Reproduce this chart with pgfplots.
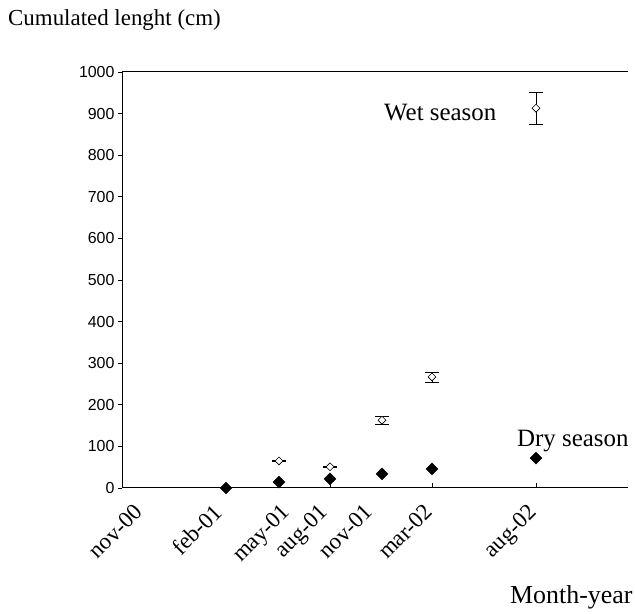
\documentclass[border=0pt]{standalone}
\usepackage{fontspec}
\setmainfont{Liberation Serif}
\setsansfont{Liberation Sans}
\usepackage{pgfplots}
\pgfplotsset{compat=1.18}
\pgfplotstableread{
x y
104 0
157 14
208 22
260 34
310 46
414 72
}\dry
\pgfplotstableread{
x y e
157 65 1
208 51 1
260 163 10
310 267 12
414 913 38
}\wet
\begin{document}
\begin{tikzpicture}
\useasboundingbox (0,0) rectangle (635bp,614bp);
\begin{axis}[
  at={(122bp,126bp)}, anchor=south west,
  scale only axis, width=506bp, height=416bp,
  xmin=0, xmax=506, ymin=0, ymax=1000,
  clip=false,
  axis lines=left,
  axis line style={-, line width=1bp, black},
  ytick={0,100,...,1000},
  ytick pos=left,
  tick align=outside,
  major tick length=4bp,
  tick style={black, line width=0.8bp},
  yticklabel style={font=\sffamily\fontsize{16}{18}\selectfont},
  /pgf/number format/assume math mode=true,
  /pgf/number format/1000 sep={},
  xtick={21,100,168,206,251,311,415},
  xticklabels={nov-00,feb-01,may-01,aug-01,nov-01,mar-02,aug-02},
  x tick style={draw=none},
  xticklabel style={xshift=-10bp, yshift=-9bp, rotate=45, anchor=north east, inner sep=1pt, font=\fontsize{23}{25}\selectfont},
]
\draw[line width=1bp] (axis cs:0,1000) -- (axis cs:506,1000);
\pgfplotsinvokeforeach{104,208,310,414}{\draw[line width=0.8bp] (axis cs:#1,0) -- ++(0pt,5bp);}
\addplot[only marks, mark=square*, mark size=4.2bp, mark options={rotate=45, fill=black, draw=black}] table[x=x,y=y] {\dry};
\addplot[only marks, mark=square*, mark size=2.8bp, mark options={rotate=45, fill=white, draw=black, line width=0.6bp},
  error bars/.cd, y dir=both, y explicit, error mark=-, error mark options={rotate=90, black, mark size=7bp, line width=0.8bp},
  error bar style={black, line width=0.8bp}] table[x=x,y=y,y error=e] {\wet};
\end{axis}
\node[anchor=west, inner sep=0pt, font=\fontsize{23}{25}\selectfont] at (8bp,594bp) {Cumulated lenght (cm)};
\node[anchor=west, inner sep=0pt, font=\fontsize{25}{27}\selectfont] at (384bp,501bp) {Wet season};
\node[anchor=west, inner sep=0pt, font=\fontsize{25}{27}\selectfont] at (517bp,173bp) {Dry season};
\node[anchor=west, inner sep=0pt, font=\fontsize{26}{28}\selectfont] at (510bp,17bp) {Month-year};
\end{tikzpicture}
\end{document}
